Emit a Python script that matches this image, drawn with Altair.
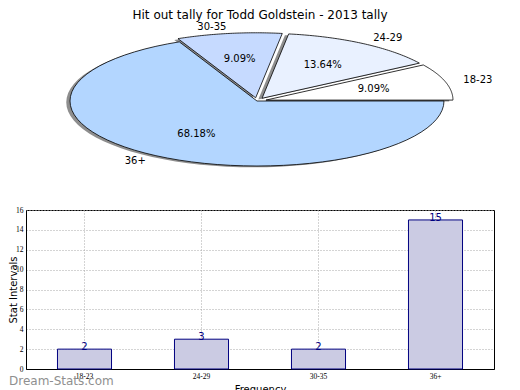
import altair as alt
import pandas as pd

# ---- data ----
labels = ["18-23", "24-29", "30-35", "36+"]
counts = [2, 3, 2, 15]
explode = [0.05, 0.05, 0.05, 0.0]
pie_colors = ["#ffffff", "#e9f1ff", "#c6daff", "#b3d6ff"]
y_ticks = [0, 2, 4, 6, 8, 10, 12, 14, 16]
title_text = "Hit out tally for Todd Goldstein - 2013 tally"
watermark = ["Dream-Stats.com"]

df = pd.DataFrame({"label": labels, "count": counts, "explode": explode,
                   "order": list(range(len(labels)))})

N = 60
FONT = "DejaVu Sans"

# pie geometry in data units (matplotlib-like: radius 1, non-equal aspect)
xs = alt.Scale(domain=[-1.2353, 1.2674], nice=False, zero=False)
ys = alt.Scale(domain=[-1.4769, 1.2], nice=False, zero=False)

base = (
    alt.Chart(df)
    .transform_joinaggregate(total="sum(count)")
    .transform_window(cum="sum(count)", sort=[alt.SortField("order")], frame=[None, 0])
    .transform_calculate(
        a0="2*PI*(datum.cum - datum.count)/datum.total",
        a1="2*PI*datum.cum/datum.total",
    )
    .transform_calculate(mid="(datum.a0 + datum.a1)/2")
    .transform_calculate(
        cx="datum.explode*cos(datum.mid)",
        cy="datum.explode*sin(datum.mid)",
        pct="format(100*datum.count/datum.total, '.2f') + '%'",
    )
)

pts = (
    base.transform_calculate(k=f"sequence(0, {N + 3})")
    .transform_flatten(["k"])
    .transform_calculate(
        t=f"clamp((datum.k - 1)/{N}, 0, 1)",
        isc=f"datum.k == 0 || datum.k == {N + 2}",
    )
    .transform_calculate(ang="datum.a0 + (datum.a1 - datum.a0)*datum.t")
    .transform_calculate(
        px="datum.cx + (datum.isc ? 0 : cos(datum.ang))",
        py="datum.cy + (datum.isc ? 0 : sin(datum.ang))",
    )
    .transform_calculate(sx="datum.px - 0.02", sy="datum.py - 0.02")
)

shadow = pts.mark_line(strokeWidth=0, fill="#7a7a7a", fillOpacity=0.85).encode(
    x=alt.X("sx:Q", scale=xs, axis=None),
    y=alt.Y("sy:Q", scale=ys, axis=None),
    order=alt.Order("k:Q"),
    detail="label:N",
)

slices = pts.mark_line(stroke="black", strokeWidth=0.8).encode(
    x=alt.X("px:Q", scale=xs, axis=None),
    y=alt.Y("py:Q", scale=ys, axis=None),
    order=alt.Order("k:Q"),
    fill=alt.Fill("label:N", scale=alt.Scale(domain=labels, range=pie_colors), legend=None),
    detail="label:N",
)

lab = base.transform_calculate(
    lx="datum.cx + 1.1*cos(datum.mid)",
    ly="datum.cy + 1.1*sin(datum.mid)",
    qx="datum.cx + 0.6*cos(datum.mid)",
    qy="datum.cy + 0.6*sin(datum.mid)",
)

lab_right = lab.transform_filter("cos(datum.mid) >= 0").mark_text(
    align="left", baseline="middle", font=FONT, fontSize=10, color="black"
).encode(x=alt.X("lx:Q", scale=xs, axis=None), y=alt.Y("ly:Q", scale=ys, axis=None), text="label:N")

lab_left = lab.transform_filter("cos(datum.mid) < 0").mark_text(
    align="right", baseline="middle", font=FONT, fontSize=10, color="black"
).encode(x=alt.X("lx:Q", scale=xs, axis=None), y=alt.Y("ly:Q", scale=ys, axis=None), text="label:N")

pct = lab.mark_text(
    align="center", baseline="middle", font=FONT, fontSize=10, color="black"
).encode(x=alt.X("qx:Q", scale=xs, axis=None), y=alt.Y("qy:Q", scale=ys, axis=None), text="pct:N")

pie = alt.layer(shadow, slices, lab_right, lab_left, pct).properties(
    width=468,
    height=174,
    title=alt.TitleParams(title_text, font=FONT, fontSize=12, fontWeight="normal",
                          anchor="middle", offset=0, color="black"),
    view=alt.ViewBackground(stroke="transparent"),
)

# ---- bar chart ----
xband = alt.Scale(domain=labels, paddingInner=0.538, paddingOuter=0.269)
yscale = alt.Scale(domain=[0, 16], nice=False)

x_axis = alt.Axis(title="Frequency", labelAngle=0, labelFont="Liberation Serif",
                  labelFontSize=7.5, labelColor="black", labelPadding=3, ticks=False,
                  labelOverlap=False,
                  grid=True, gridColor="#a8a8a8", gridDash=[1, 2], gridWidth=1,
                  domainColor="black", titleFont=FONT, titleFontSize=10,
                  titleFontWeight="normal", titlePadding=5, titleColor="black")
y_axis = alt.Axis(title="Stat Intervals", values=y_ticks, labelOverlap=False,
                  labelFont="Liberation Serif",
                  labelFontSize=7.5, labelColor="black", labelPadding=3, ticks=False,
                  grid=True, gridColor="#a8a8a8", gridDash=[1, 2], gridWidth=1,
                  domainColor="black", titleFont=FONT, titleFontSize=10,
                  titleFontWeight="normal", titlePadding=-3, titleColor="black")

bars = alt.Chart(df).mark_bar(fill="#cbcbe3", stroke="#000080", strokeWidth=1).encode(
    x=alt.X("label:N", scale=xband, sort=labels, axis=x_axis),
    y=alt.Y("count:Q", scale=yscale, axis=y_axis),
)

bar_text = alt.Chart(df).mark_text(
    baseline="alphabetic", dy=1, font=FONT, fontSize=10, color="#000080"
).encode(x=alt.X("label:N", scale=xband, sort=labels, axis=x_axis),
         y=alt.Y("count:Q", scale=yscale, axis=y_axis), text="count:Q")

wm = alt.Chart(pd.DataFrame({"t": watermark})).mark_text(
    align="left", baseline="middle", font=FONT, fontSize=12, fontWeight="normal", color="#8f8f8f"
).encode(x=alt.value(-17), y=alt.value(171), text="t:N")

bar = alt.layer(bars, bar_text, wm).properties(
    width=468, height=159,
    view=alt.ViewBackground(stroke="black", strokeWidth=1),
)

chart = alt.vconcat(pie, bar, spacing=7).properties(
    padding={"left": 0, "top": 0, "right": 0, "bottom": 0}
).resolve_scale(x="independent", y="independent")

chart.save("out.html", embed_options={"renderer": "svg", "actions": False})
